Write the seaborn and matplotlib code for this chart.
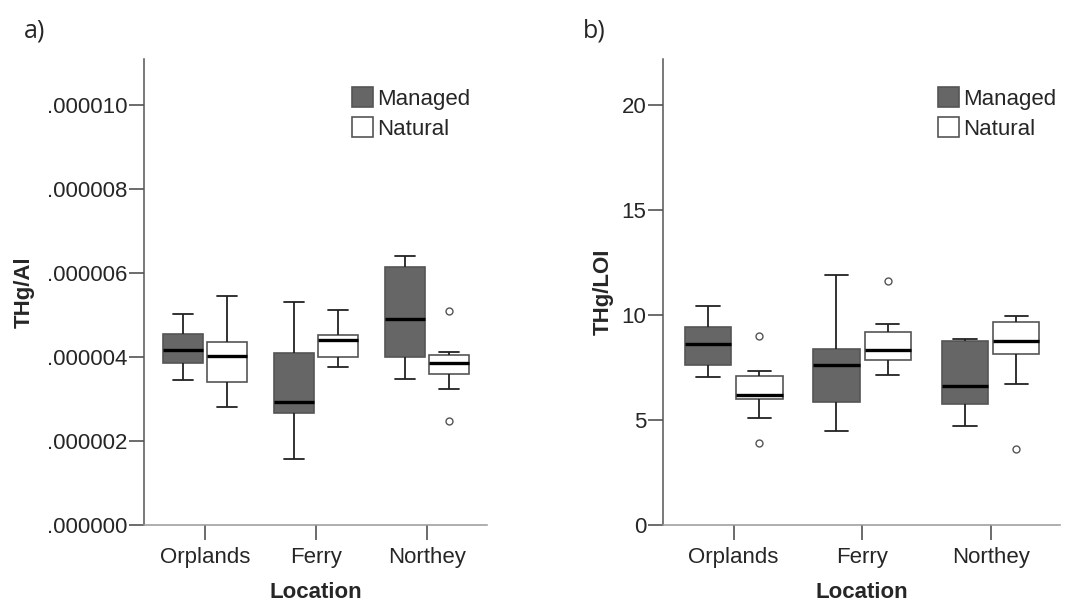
import matplotlib
matplotlib.use("Agg")
import matplotlib.pyplot as plt
from matplotlib.ticker import FuncFormatter
import pandas as pd
import seaborn as sns

locations = ["Orplands", "Ferry", "Northey"]
treatments = ["Managed", "Natural"]

# THg/Al, sample values per group
al_orplands_managed = [3.45e-6, 3.70e-6, 3.86e-6, 4.02e-6, 4.17e-6, 4.35e-6, 4.55e-6, 4.80e-6, 5.02e-6]
al_orplands_natural = [2.80e-6, 3.15e-6, 3.41e-6, 3.75e-6, 4.02e-6, 4.20e-6, 4.36e-6, 4.90e-6, 5.45e-6]
al_ferry_managed = [1.57e-6, 2.20e-6, 2.66e-6, 2.80e-6, 2.94e-6, 3.50e-6, 4.10e-6, 4.70e-6, 5.30e-6]
al_ferry_natural = [3.77e-6, 3.90e-6, 4.01e-6, 4.25e-6, 4.40e-6, 4.46e-6, 4.52e-6, 4.85e-6, 5.13e-6]
al_northey_managed = [3.47e-6, 3.75e-6, 3.99e-6, 4.40e-6, 4.90e-6, 5.60e-6, 6.15e-6, 6.30e-6, 6.40e-6]
al_northey_natural = [2.48e-6, 3.24e-6, 3.60e-6, 3.75e-6, 3.86e-6, 3.95e-6, 4.05e-6, 4.13e-6, 5.10e-6]

# THg/LOI
loi_orplands_managed = [7.03, 7.30, 7.60, 8.10, 8.62, 9.00, 9.44, 9.90, 10.43]
loi_orplands_natural = [3.89, 5.08, 5.98, 6.10, 6.19, 6.70, 7.11, 7.35, 9.00]
loi_ferry_managed = [4.48, 5.20, 5.87, 6.80, 7.60, 8.00, 8.40, 10.00, 11.89]
loi_ferry_natural = [7.13, 7.50, 7.86, 8.10, 8.33, 8.80, 9.19, 9.56, 11.62]
loi_northey_managed = [4.71, 5.30, 5.75, 6.20, 6.62, 7.80, 8.75, 8.80, 8.84]
loi_northey_natural = [3.62, 6.71, 8.14, 8.45, 8.75, 9.20, 9.67, 9.85, 9.97]

al_ticks = [0, 2e-6, 4e-6, 6e-6, 8e-6, 1e-5]
loi_ticks = [0, 5, 10, 15, 20]


def to_long(groups):
    rows = []
    for (loc, trt), vals in groups.items():
        for v in vals:
            rows.append([loc, trt, v])
    return pd.DataFrame(rows, columns=["Location", "Treatment", "Value"])


df_al = to_long({
    ("Orplands", "Managed"): al_orplands_managed,
    ("Orplands", "Natural"): al_orplands_natural,
    ("Ferry", "Managed"): al_ferry_managed,
    ("Ferry", "Natural"): al_ferry_natural,
    ("Northey", "Managed"): al_northey_managed,
    ("Northey", "Natural"): al_northey_natural,
})
df_loi = to_long({
    ("Orplands", "Managed"): loi_orplands_managed,
    ("Orplands", "Natural"): loi_orplands_natural,
    ("Ferry", "Managed"): loi_ferry_managed,
    ("Ferry", "Natural"): loi_ferry_natural,
    ("Northey", "Managed"): loi_northey_managed,
    ("Northey", "Natural"): loi_northey_natural,
})

sns.set_style("white")
plt.rcParams["font.family"] = ["Liberation Sans", "DejaVu Sans"]

fig = plt.figure(figsize=(10.86, 6.04), dpi=100)
ax1 = fig.add_axes([0.1326, 0.1308, 0.3158, 0.7715])
ax2 = fig.add_axes([0.6105, 0.1308, 0.3656, 0.7715])

box_kw = dict(
    x="Location", y="Value", hue="Treatment",
    order=locations, hue_order=treatments,
    palette={"Managed": "#666666", "Natural": "white"},
    width=0.8, gap=0.1, saturation=1,
    boxprops=dict(edgecolor="#555555", linewidth=1.2),
    whiskerprops=dict(color="#222222", linewidth=1.3),
    capprops=dict(color="#222222", linewidth=1.3),
    medianprops=dict(color="black", linewidth=2.4),
    flierprops=dict(marker="o", markersize=5, markerfacecolor="white",
                    markeredgecolor="#555555", markeredgewidth=1.0),
)

panels = [
    (ax1, df_al, "THg/Al", al_ticks, 1.11e-5, 0.606, -0.32, "a)", 0.022),
    (ax2, df_loi, "THg/LOI", loi_ticks, 22.2, 0.692, -0.125, "b)", 0.537),
]

for ax, df, ylab, ticks, ytop, leg_x, ylab_x, tag, tag_x in panels:
    sns.boxplot(data=df, ax=ax, **box_kw)
    ax.set_xlim(-0.55, 2.54)
    ax.set_ylim(0, ytop)
    ax.set_yticks(ticks)
    if ax is ax1:
        ax.yaxis.set_major_formatter(FuncFormatter(lambda v, p: f"{v:.6f}"[1:]))

    for s in ["top", "right"]:
        ax.spines[s].set_visible(False)
    ax.spines["left"].set_color("#555555")
    ax.spines["bottom"].set_color("#999999")
    ax.spines["left"].set_linewidth(1.1)
    ax.spines["bottom"].set_linewidth(1.1)
    ax.tick_params(axis="both", direction="out", length=11, width=1.1,
                   color="#444444", labelsize=16, pad=1, left=True, bottom=True)
    ax.tick_params(axis="x", pad=5)

    ax.set_xlabel("Location", fontsize=16, fontweight="bold")
    ax.set_ylabel(ylab, fontsize=16, fontweight="bold")
    ax.xaxis.set_label_coords(0.5, -0.122)
    ax.yaxis.set_label_coords(ylab_x, 0.5)

    sns.move_legend(ax, "upper left", bbox_to_anchor=(leg_x, 0.94),
                    frameon=False, title=None, fontsize=16,
                    handlelength=0.95, handleheight=1.0, handletextpad=0.2,
                    labelspacing=0.35, borderpad=0, borderaxespad=0)

    fig.text(tag_x, 0.938, tag, fontsize=18, family=["Open Sans", "DejaVu Sans"],
             va="baseline")

fig.savefig("out.png", dpi=100)
